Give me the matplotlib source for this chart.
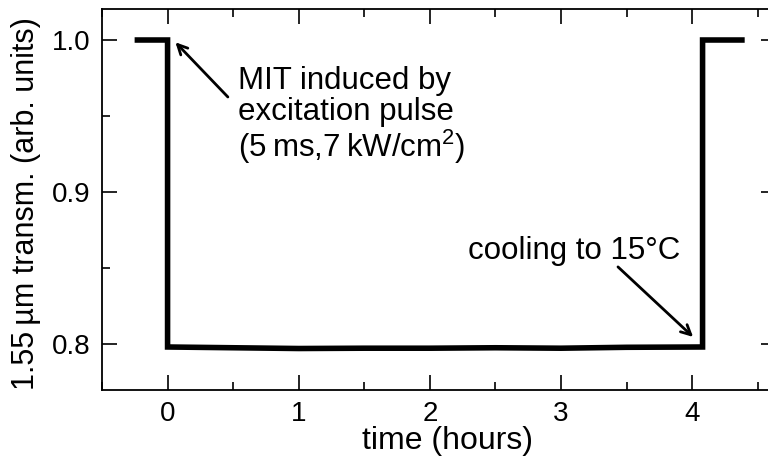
import matplotlib
matplotlib.use('Agg')
import matplotlib.pyplot as plt
from matplotlib.ticker import MultipleLocator, FormatStrFormatter

plt.rcParams['font.family'] = ['Liberation Sans', 'DejaVu Sans']

# transmission trace
time_h = [-0.23, 0.0, 0.0, 0.5, 1.0, 1.5, 2.0, 2.5, 3.0, 3.5, 4.08, 4.08, 4.38]
transm = [1.0, 1.0, 0.798, 0.7975, 0.797, 0.7972, 0.7972, 0.7975, 0.7972,
          0.7978, 0.798, 1.0, 1.0]

x_major = [0, 1, 2, 3, 4]
y_major = [0.8, 0.9, 1.0]

note_mit = 'MIT induced by\nexcitation pulse\n(5\u2009ms,7\u2009kW/cm$^\\mathregular{2}$)'
note_cool = 'cooling to 15\u00b0C'

arrow = dict(arrowstyle='->,head_length=0.7,head_width=0.35',
             color='black', lw=2, shrinkA=0, shrinkB=0)

fig = plt.figure(figsize=(7.68, 4.61), dpi=100)
ax = fig.add_axes([102 / 768, 71 / 461, 674 / 768, 381 / 461])

ax.plot(time_h, transm, color='black', linewidth=4, solid_joinstyle='miter')

ax.set_xlim(-0.5, 4.64)
ax.set_ylim(0.7697, 1.0204)
ax.set_xticks(x_major)
ax.set_yticks(y_major)
ax.xaxis.set_minor_locator(MultipleLocator(0.5))
ax.yaxis.set_minor_locator(MultipleLocator(0.05))
ax.yaxis.set_major_formatter(FormatStrFormatter('%.1f'))
ax.tick_params(which='both', direction='in', top=True, right=True,
               width=1.2, labelsize=20)
ax.tick_params(which='major', length=11)
ax.tick_params(which='minor', length=6)
ax.tick_params(axis='x', pad=8)
ax.tick_params(axis='y', pad=8)
for sp in ax.spines.values():
    sp.set_linewidth(1.3)

ax.set_xlabel('time (hours)', fontsize=23)
ax.set_ylabel('1.55\u2009\u00b5m transm. (arb. units)', fontsize=22)
ax.xaxis.set_label_coords(0.513, -0.095)
ax.yaxis.set_label_coords(-0.09, 0.49)

# multi-line text: baseline alignment goes to the last line
ax.text(0.534, 0.923, note_mit, fontsize=22.5, ha='left', va='baseline',
        linespacing=1.03)
ax.annotate('', xy=(0.06, 0.9985), xytext=(0.46, 0.9625), arrowprops=arrow)

ax.text(2.29, 0.856, note_cool, fontsize=22.5, ha='left', va='baseline')
ax.annotate('', xy=(4.008, 0.8046), xytext=(3.435, 0.8507), arrowprops=arrow)

fig.savefig('out.png', dpi=100)
